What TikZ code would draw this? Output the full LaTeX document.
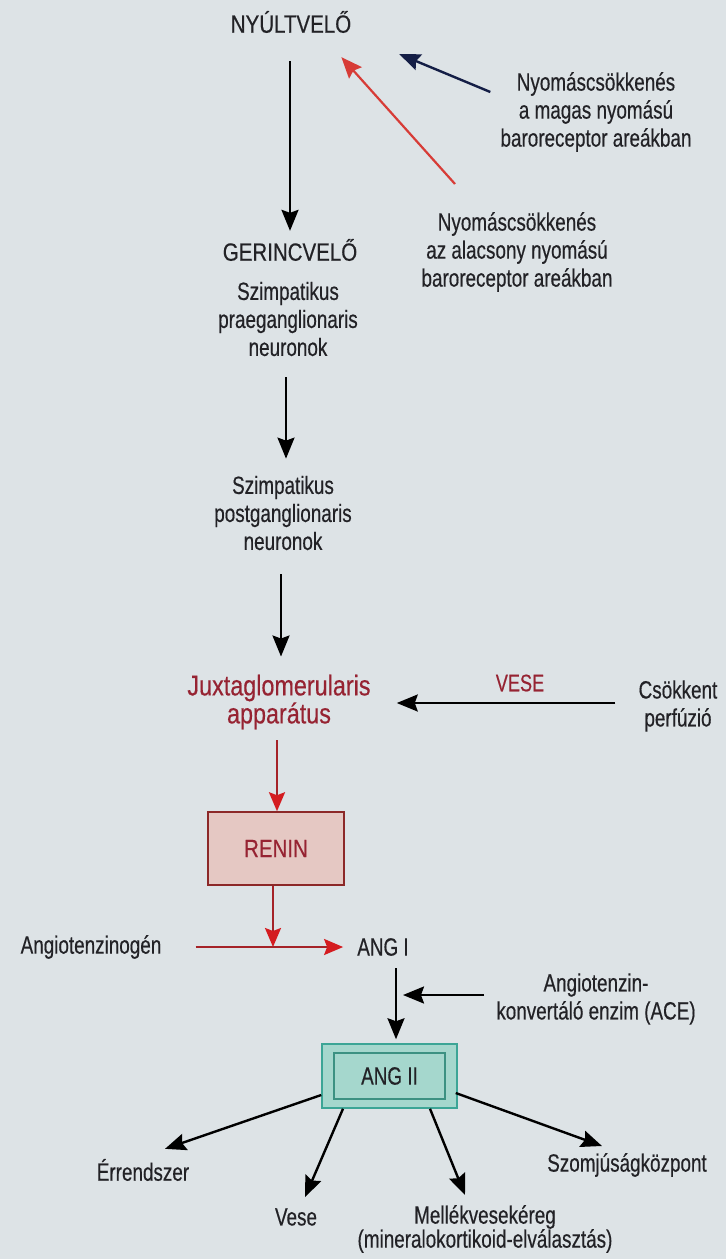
\documentclass[tikz,border=0pt]{standalone}
\usepackage{fontspec}
\setmainfont{Liberation Sans}[FakeStretch=0.755,FakeBold=0.4]
\newfontfamily\ttlfont{Liberation Sans}[FakeStretch=0.82,FakeBold=0.4]
\usetikzlibrary{arrows.meta}
\definecolor{bg}{RGB}{221,227,230}
\definecolor{txt}{RGB}{34,34,38}
\definecolor{redtxt}{RGB}{150,35,50}
\definecolor{reninfill}{RGB}{229,200,195}
\definecolor{reninborder}{RGB}{140,40,40}
\definecolor{tealfill}{RGB}{165,215,205}
\definecolor{tealborder}{RGB}{60,165,150}
\definecolor{tealinner}{RGB}{60,145,130}
\definecolor{navy}{RGB}{20,30,70}
\definecolor{redline}{RGB}{165,35,40}
\definecolor{redtip}{RGB}{212,28,32}
\definecolor{topred}{RGB}{215,60,55}
\tikzset{
  lbl/.style={font=\fontsize{25}{28}\selectfont, align=center, text=txt, inner sep=1pt},
  ttl/.style={lbl, font=\ttlfont\fontsize{25}{30}\selectfont},
  redlbl/.style={lbl, text=redtxt, font=\ttlfont\fontsize{28.5}{28}\selectfont},
  arr/.style={line width=2.4pt, draw=black, -{Stealth[length=21pt,width=17pt,inset=3pt]}},
  rarr/.style={line width=2.2pt, draw=redline, -{Stealth[length=19pt,width=16pt,inset=3pt,color=redtip]}},
}
\begin{document}
\begin{tikzpicture}[x=1pt,y=-1pt]
\useasboundingbox (0,0) rectangle (726,1259);
\fill[bg] (0,0) rectangle (726,1259);

% nodes
\node[ttl] (nyult) at (291,22) {NYÚLTVELŐ};
\node[lbl] (hp) at (596,112) {Nyomáscsökkenés\\a magas nyomású\\baroreceptor areákban};
\node[lbl] (lp) at (517,252) {Nyomáscsökkenés\\az alacsony nyomású\\baroreceptor areákban};
\node[ttl] (gerinc) at (290,250) {GERINCVELŐ};
\node[lbl] (pre) at (288,319) {Szimpatikus\\praeganglionaris\\neuronok};
\node[lbl] (post) at (283,513) {Szimpatikus\\postganglionaris\\neuronok};
\node[redlbl] (juxta) at (279,702) {Juxtaglomerularis\\apparátus};
\node[lbl, text=redtxt, font=\fontsize{24}{28}\selectfont] (vese) at (520,683) {VESE};
\node[lbl] (perf) at (678,706) {Csökkent\\perfúzió};
\node[draw=reninborder, fill=reninfill, line width=1.5pt, minimum width=136pt, minimum height=73pt,
      text=redtxt, font=\ttlfont\fontsize{25}{30}\selectfont] (renin) at (276,848.5) {RENIN};
\node[lbl] (agen) at (91,947) {Angiotenzinogén};
\node[lbl] (ang1) at (383,947) {ANG I};
\node[lbl] (ace) at (596,999) {Angiotenzin-\\konvertáló enzim (ACE)};
\node[draw=tealborder, fill=tealfill, line width=1.5pt, minimum width=135pt, minimum height=64pt] (ang2) at (389.5,1076) {};
\node[lbl, draw=tealinner, line width=1.5pt, minimum width=111pt, minimum height=46pt] (ang2in) at (ang2) {ANG II};
\node[lbl] (err) at (143,1170) {Érrendszer};
\node[lbl] (vese2) at (296,1217) {Vese};
\node[lbl, font=\fontsize{25}{24}\selectfont] (mell) at (485,1229) {Mellékvesekéreg\\(mineralokortikoid-elválasztás)};
\node[lbl] (szomj) at (627,1165) {Szomjúságközpont};

\coordinate (j) at (273,947);
\coordinate (k) at (396,995);

% connectors
\draw[arr] ([xshift=-1pt,yshift=-27pt]nyult.south) -- ([yshift=7pt]gerinc.north);
\draw[line width=2.4pt, draw=navy, -{Stealth[length=21pt,width=17pt,inset=3pt]}]
  ([xshift=-9pt,yshift=20pt]hp.west) -- ([xshift=47pt,yshift=-20pt]nyult.south east);
\draw[line width=2.2pt, draw=topred, -{Stealth[length=21pt,width=17pt,inset=3pt]}]
  ([xshift=-62pt,yshift=27pt]lp.north) -- ([xshift=-11pt,yshift=-23pt]nyult.south east);
\draw[arr] ([xshift=-2pt,yshift=-20pt]pre.south) -- ([xshift=3pt,yshift=16pt]post.north);
\draw[arr] ([xshift=-2pt,yshift=-23pt]post.south) -- ([xshift=2pt,yshift=17pt]juxta.north);
\draw[arr] ([xshift=-22pt,yshift=3pt]perf.west) -- ([xshift=25pt,yshift=-1pt]juxta.east);
\draw[rarr] ([xshift=-2pt,yshift=-10pt]juxta.south) -- ([xshift=1pt]renin.north);
\draw[rarr] (renin.south -| j) -- (j);
\draw[rarr] ([xshift=33pt]agen.east) -- ([xshift=-13pt]ang1.west);
\draw[arr] ([yshift=-11pt]ang1.south -| k) -- ([yshift=4pt]ang2.north -| k);
\draw[arr] ([xshift=-11pt]ace.west |- k) -- ([xshift=7pt]k);
\draw[arr] ([yshift=-19pt]ang2.west) -- ([xshift=22pt,yshift=9pt]err.north);
\draw[arr] ([xshift=-46.5pt]ang2.south) -- ([xshift=9pt,yshift=10pt]vese2.north);
\draw[arr] ([xshift=40.5pt]ang2.south) -- ([xshift=-20pt,yshift=9pt]mell.north);
\draw[arr] ([xshift=-2pt,yshift=-17pt]ang2.east) -- ([xshift=-25pt,yshift=6pt]szomj.north);
\end{tikzpicture}
\end{document}
